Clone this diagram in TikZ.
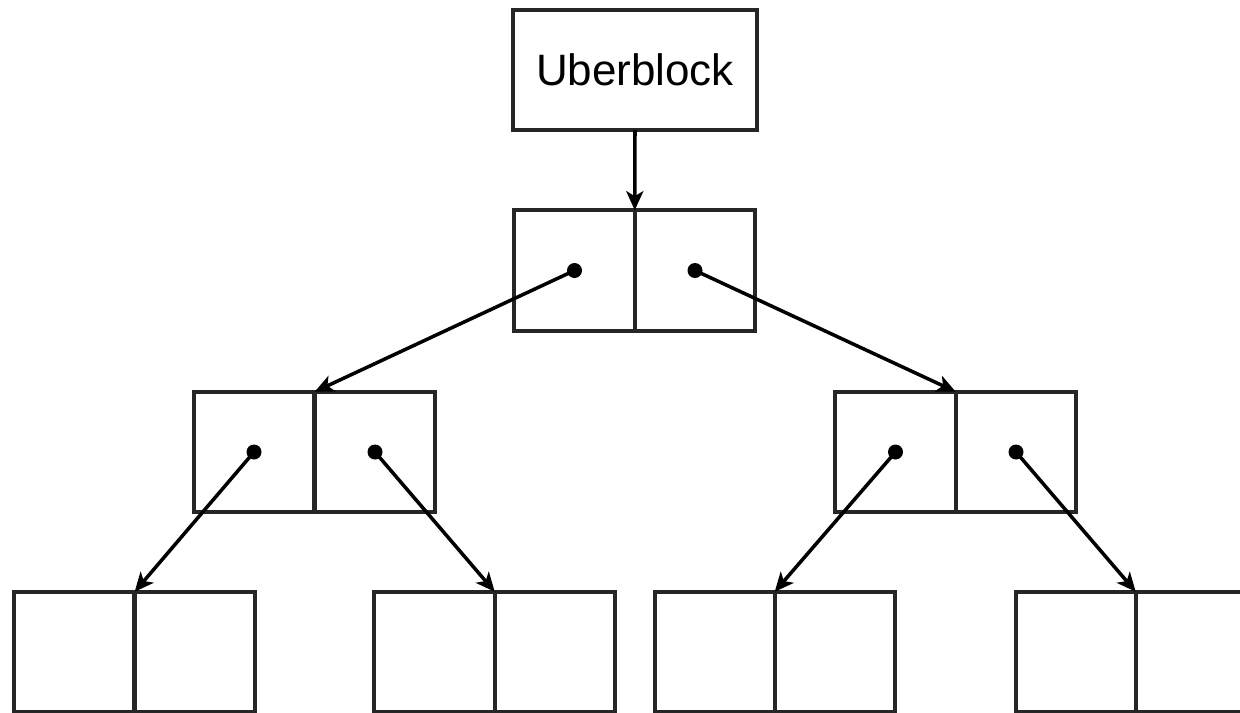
\documentclass[tikz,border=0pt]{standalone}
\usepackage{fontspec}
\setmainfont{Liberation Sans}
\usetikzlibrary{arrows.meta}
\begin{document}
\begin{tikzpicture}[x=0.01cm,y=-0.01cm,
	cell/.style={draw=black!85, line width=1.1pt, minimum width=1.205cm, minimum height=1.205cm, inner sep=0pt, outer sep=0pt},
	ptr/.style={-{Stealth[length=0.19cm,width=0.17cm,inset=0.05cm]}, line width=1pt},
	pin/.style={circle, fill=black, inner sep=0pt, minimum size=0.15cm}]
	\useasboundingbox (0,0) rectangle (1240,712);
%	% Uberblock
	\node[cell, minimum width=2.44cm, minimum height=1.2cm, font=\fontsize{12.5}{15}\selectfont] (uber) at (635,70) {Uberblock};
%	% Root block
	\node[cell] (rootL) at (574.5,270.5) {};
	\node[cell] (rootR) at (695,270.5) {};
%	% Second level
	\node[cell] (aL) at (254,452) {};
	\node[cell] (aR) at (375,452) {};
	\node[cell] (bL) at (895.5,452) {};
	\node[cell] (bR) at (1016,452) {};
%	% Leaves
	\node[cell] (cL) at (74,652) {};
	\node[cell] (cR) at (195,652) {};
	\node[cell] (dL) at (434.5,652) {};
	\node[cell] (dR) at (555,652) {};
	\node[cell] (eL) at (715,652) {};
	\node[cell] (eR) at (835,652) {};
	\node[cell] (fL) at (1076,652) {};
	\node[cell] (fR) at (1196,652) {};
%	% Block pointers
	\foreach \c in {rootL,rootR,aL,aR,bL,bR}
		\node[pin] (p\c) at (\c.center) {};
	\draw[ptr] (uber.south) -- (rootR.north west);
	\draw[ptr] (prootL.center) -- (aR.north west);
	\draw[ptr] (prootR.center) -- (bR.north west);
	\draw[ptr] (paL.center) -- (cR.north west);
	\draw[ptr] (paR.center) -- (dR.north west);
	\draw[ptr] (pbL.center) -- (eR.north west);
	\draw[ptr] (pbR.center) -- (fR.north west);
\end{tikzpicture}
\end{document}
